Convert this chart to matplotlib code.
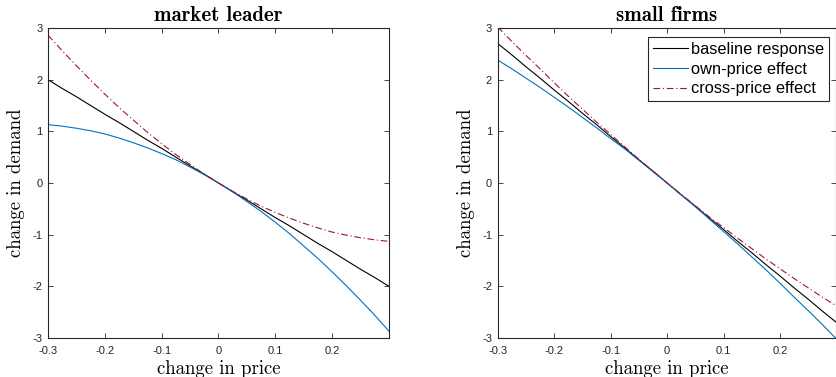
import matplotlib
matplotlib.use("Agg")
import matplotlib.pyplot as plt

# price changes (shared x grid)
price = [-0.3, -0.275, -0.25, -0.225, -0.2, -0.175, -0.15, -0.125, -0.1, -0.075, -0.05, -0.025, 0.0,
         0.025, 0.05, 0.075, 0.1, 0.125, 0.15, 0.175, 0.2, 0.225, 0.25, 0.275, 0.3]

# market leader
leader_base = [2.00, 1.83, 1.67, 1.50, 1.33, 1.17, 1.00, 0.83, 0.67, 0.50, 0.33, 0.17, 0.0,
               -0.17, -0.33, -0.50, -0.67, -0.83, -1.00, -1.17, -1.33, -1.50, -1.67, -1.83, -2.00]
leader_own = [1.13, 1.10, 1.06, 1.01, 0.95, 0.87, 0.78, 0.68, 0.57, 0.45, 0.31, 0.16, 0.0,
              -0.17, -0.36, -0.55, -0.76, -0.98, -1.22, -1.46, -1.72, -1.99, -2.27, -2.56, -2.87]
leader_cross = [2.86, 2.56, 2.27, 1.99, 1.72, 1.46, 1.22, 0.98, 0.76, 0.55, 0.36, 0.17, 0.0,
                -0.16, -0.31, -0.45, -0.57, -0.68, -0.78, -0.87, -0.95, -1.01, -1.06, -1.10, -1.13]

# small firms
small_base = [2.70, 2.48, 2.25, 2.03, 1.80, 1.58, 1.35, 1.13, 0.90, 0.68, 0.45, 0.23, 0.0,
              -0.23, -0.45, -0.68, -0.90, -1.13, -1.35, -1.58, -1.80, -2.03, -2.25, -2.48, -2.70]
small_own = [2.38, 2.21, 2.03, 1.85, 1.66, 1.47, 1.27, 1.07, 0.86, 0.66, 0.44, 0.22, 0.0,
             -0.23, -0.46, -0.70, -0.94, -1.18, -1.43, -1.68, -1.94, -2.21, -2.47, -2.74, -3.02]
small_cross = [3.02, 2.74, 2.47, 2.21, 1.94, 1.68, 1.43, 1.18, 0.94, 0.70, 0.46, 0.23, 0.0,
               -0.22, -0.44, -0.66, -0.86, -1.07, -1.27, -1.47, -1.66, -1.85, -2.03, -2.21, -2.38]

xticks = [-0.3, -0.2, -0.1, 0.0, 0.1, 0.2]
xticklabels = ["-0.3", "-0.2", "-0.1", "0", "0.1", "0.2"]
yticks = [-3, -2, -1, 0, 1, 2, 3]
yticklabels = ["-3", "-2", "-1", "0", "1", "2", "3"]

titles = ["market leader", "small firms"]
legend_labels = ["baseline response", "own-price effect", "cross-price effect"]

AX_COL = "#262626"
BLUE = "#0072BD"
RED = "#A2142F"

fig = plt.figure(figsize=(8.37, 3.77), dpi=100)
ax1 = fig.add_axes([48 / 837, 1 - 338 / 377, 341 / 837, 310 / 377])
ax2 = fig.add_axes([497.7 / 837, 1 - 338 / 377, 338.8 / 837, 310 / 377])

panels = [(ax1, leader_base, leader_own, leader_cross),
          (ax2, small_base, small_own, small_cross)]

for i, (ax, base, own, cross) in enumerate(panels):
    l1, = ax.plot(price, base, color="black", lw=0.8)
    l2, = ax.plot(price, own, color=BLUE, lw=0.8)
    l3, = ax.plot(price, cross, color=RED, lw=0.8, linestyle=(0, (6, 2.5, 1, 2.5)))
    ax.set_xlim(-0.3, 0.3)
    ax.set_ylim(-3, 3)
    ax.set_xticks(xticks)
    ax.set_xticklabels(xticklabels, family="Liberation Sans", fontsize=8, color=AX_COL)
    ax.set_yticks(yticks)
    ax.set_yticklabels(yticklabels, family="Liberation Sans", fontsize=8, color=AX_COL)
    ax.tick_params(direction="in", length=3.5, width=0.6, color=AX_COL,
                   top=True, right=True)
    ax.tick_params(axis="x", pad=6)
    ax.tick_params(axis="y", pad=4)
    for s in ax.spines.values():
        s.set_color(AX_COL)
        s.set_linewidth(0.8)
    ax.set_title(titles[i], family="cmb10", fontsize=15, pad=5)
    ax.set_xlabel("change in price", family="cmr10", fontsize=13.5, labelpad=2.5)
    ax.set_ylabel("change in demand", family="cmr10", fontsize=13.5, labelpad=5)
    if i == 1:
        leg = ax.legend([l1, l2, l3], legend_labels, loc="upper right",
                        bbox_to_anchor=(0.978, 0.972), borderaxespad=0,
                        prop={"family": "Liberation Sans", "size": 11.8},
                        fancybox=False, framealpha=1, edgecolor=AX_COL,
                        handlelength=2.1, handletextpad=0.2, labelspacing=0.3,
                        borderpad=0.3)
        leg.get_frame().set_linewidth(0.8)

fig.savefig("out.png", dpi=100)
